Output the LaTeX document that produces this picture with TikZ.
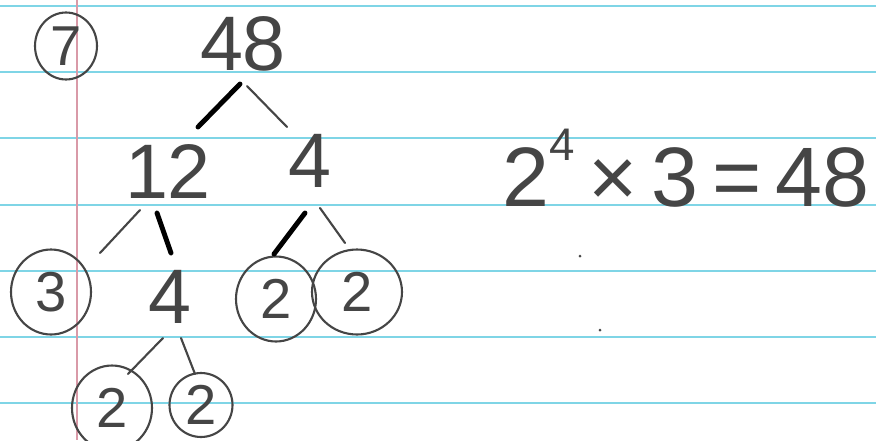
\documentclass[tikz,border=0pt]{standalone}
\usepackage{xcolor}
\usepackage{tikz}
\usepackage{fontspec}
\setmainfont{Liberation Sans}
\usetikzlibrary{shapes.geometric,calc}
\definecolor{ruleblue}{HTML}{7FD5E6}
\definecolor{marginred}{HTML}{D99AA8}
\definecolor{pencil}{HTML}{454545}
\tikzset{
    digit/.style={text=pencil, font=\fontsize{44}{44}\selectfont, inner sep=1pt},
    ringed/.style={text=pencil, font=\fontsize{32}{32}\selectfont, draw=pencil, line width=1.2pt,
                   ellipse, inner sep=0pt, minimum width=1.6cm, minimum height=1.7cm},
    twig/.style={pencil, line width=1.2pt, line cap=round},
    bough/.style={black, line width=2.8pt, line cap=round},
    paperline/.style={ruleblue, line width=1.6pt}
}

\begin{document}
\begin{tikzpicture}[x=0.02cm, y=-0.02cm]
        \fill[white] (0,0) rectangle (876,440);
        \useasboundingbox (0,0) rectangle (876,440);
        \foreach \y in {6,72,138,205,271,337,403}
            \draw[paperline] (0,\y) -- (876,\y);
        \draw[marginred, line width=1pt] (77,0) -- (77,440);

        \node[ringed, minimum width=1.24cm, minimum height=1.34cm] (seven) at (66,46) {7};
        \node[digit] (n48) at (243,44) {48};
        \node[digit] (n12) at (168,172) {12};
        \node[digit] (n4a) at (310,161) {4};
        \node[ringed] (n3) at (51,292) {3};
        \node[digit] (n4b) at (170,297) {4};
        \node[ringed] (n2a) at (276,299) {2};
        \node[ringed, minimum width=1.8cm] (n2b) at (357,292) {2};
        \node[ringed] (n2c) at (112,408) {2};
        \node[ringed, minimum width=1.26cm, minimum height=1.28cm] (n2d) at (201,405) {2};
        \node[digit, font=\fontsize{48}{48}\selectfont] (prod) at (686,168)
            {2\raisebox{0.55em}{\fontsize{26}{26}\selectfont 4}\hspace{8pt}×\hspace{8pt}3\hspace{8pt}=\hspace{8pt}48};

        \draw[bough] ($(n48)+(-3,40)$) -- ($(n12)+(30,-45)$);
        \draw[twig] ($(n48)+(4,42)$) -- ($(n4a)+(-23,-34)$);
        \draw[twig] ($(n12)+(-28,38)$) -- ($(n3)+(49,-39)$);
        \draw[bough] ($(n12)+(-11,41)$) -- ($(n4b)+(1,-44)$);
        \draw[bough] ($(n4a)+(-5,52)$) -- ($(n2a)+(-2,-45)$);
        \draw[twig] ($(n4a)+(10,47)$) -- ($(n2b)+(-12,-49)$);
        \draw[twig] ($(n4b)+(-7,41)$) -- ($(n2c)+(16,-34)$);
        \draw[twig] ($(n4b)+(11,41)$) -- ($(n2d)+(-6,-31)$);

        \fill[pencil] (580,256) circle (1.5);
        \fill[pencil] (600,330) circle (1.5);
    \end{tikzpicture}
\end{document}
